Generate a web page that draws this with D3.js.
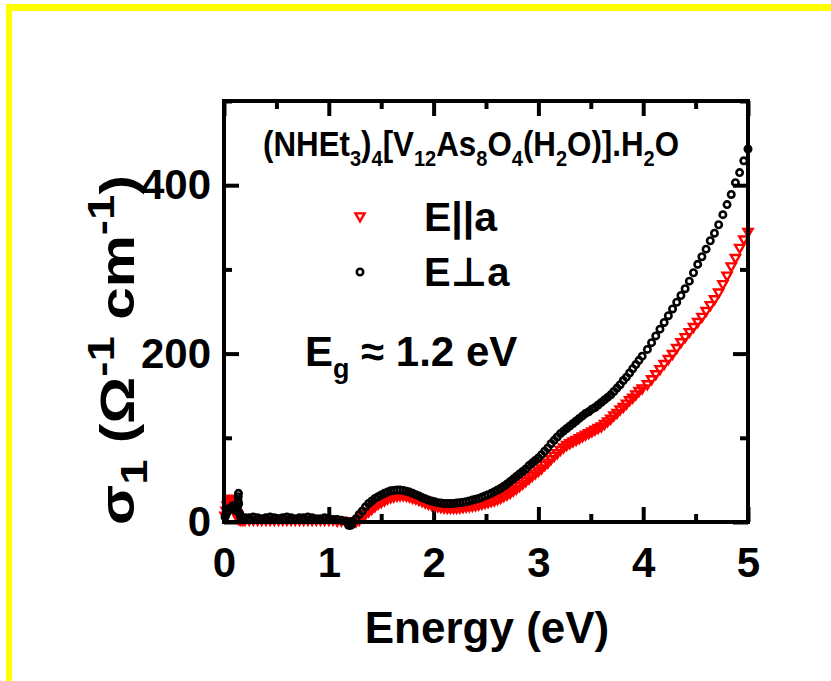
<!DOCTYPE html>
<html>
<head>
<meta charset="utf-8">
<script src="https://cdn.jsdelivr.net/npm/d3@7"></script>
<style>
  body { margin: 0; background: #fff; }
  text { font-family: "Liberation Sans", Arial, "DejaVu Sans", sans-serif; font-weight: bold; fill: #000; }
</style>
</head>
<body>
<script>

// photon energy (eV), shared by both polarisations
let energy = [
  0.01,0.02,0.03,0.04,0.05,0.06,0.07,0.08,0.09,0.10,0.11,0.12,0.13,0.132,0.134,0.136,0.138,0.14,0.15,0.16,0.18,0.20,
  0.24,0.28,0.32,0.36,0.40,0.44,0.48,0.52,0.56,0.60,0.64,0.68,0.72,0.76,0.80,0.84,0.88,0.92,0.96,1.00,1.04,1.08,1.12,1.16,
  1.18,1.19,1.20,1.205,1.21,1.22,
  1.23,1.26,1.29,1.32,1.35,1.38,1.41,1.44,1.47,1.50,1.53,1.56,1.59,1.62,1.65,1.68,1.71,1.74,1.77,1.80,
  1.83,1.86,1.89,1.92,1.95,1.98,2.01,2.04,2.07,2.10,2.13,2.16,2.19,2.22,2.25,2.28,2.31,2.34,2.37,2.40,
  2.43,2.46,2.49,2.52,2.55,2.58,2.61,2.64,2.67,2.70,2.73,2.76,2.79,2.82,2.85,2.88,2.91,2.94,2.97,3.00,
  3.03,3.06,3.09,3.12,3.15,3.18,3.21,3.24,3.27,3.30,3.33,3.36,3.39,3.42,3.45,3.48,3.51,3.54,3.57,3.60,
  3.63,3.66,3.69,3.72,3.75,3.78,3.81,3.84,3.87,3.90,3.93,3.96,3.99,
  4.04,4.08,4.12,4.16,4.20,4.24,4.28,4.32,4.36,4.40,4.44,4.48,4.52,4.56,4.60,4.64,4.68,4.72,4.76,4.80,
  4.84,4.88,4.92,4.96,5.00
]

// sigma_1 for E || a (red triangles)
let sigmaPara = [
  8,14,20,24,27,28,26,24,22,18,14,11,8,6,5,5,5,4,4,3,3,3,
  3,3,3,3,3,3,3,3,3,3,3,3,3,3,3,3,3,3,3,3,3,2,2,1,
  1,1,0,0,0,0,
  0,1,3,6,10,13,16,19,22,24,26,28,29.5,30.5,31.5,32,32,31.5,30.5,29,
  28,26.5,25,23.5,22,21,20,19,18,17.5,17,17,17,17,17.5,18,18.5,19,19.5,20,
  21,22,23,24,25,26,27.5,29,31,33,35,37.5,40,43,46,49,52,55,58,61,
  64,68,71,75,79,82,86,89,92,94,96,98,100,102,104,106,108,110,112,114,
  117,120,123,127,130,134,137,141,145,148,152,156,159,
  164,170,176,182,188,194,200,207,214,220,226,232,238,244,251,258,265,273,283,293,
  304,314,326,336,345
]

// sigma_1 for E perpendicular to a (black circles)
let sigmaPerp = [
  6,9,12,14,16,15,17,19,17,15,14,16,13,19,25,30,34,22,10,6,5,5,
  5,6,5,4,5,6,5,4,5,6,5,4,5,5,6,5,4,4,5,4,3,3,2,1,
  -1,-4,0,-4,-1,-3,
  1,4,9,13,18,22,25,28,30,32,34,35.5,37,37.5,38,38,37.5,36.5,35.5,34,
  32.5,31,29,27.5,26,25,24,23,22.5,22,22,22,22,22.5,23,23.5,24,25,26,27,
  28,29.5,31,32.5,34,36,38,40,42.5,45,48,51,54,57,60,63,67,70,73,76,
  80,84,88,93,97,101,105,108,111,114,117,120,123,126,129,131,134,136,139,142,
  145,148,151,155,159,163,168,172,177,182,187,192,197,
  205,213,221,229,237,245,253,261,269,277,286,296,306,315,324,334,343,353,365,377,
  389,403,415,429,443
]

let xMajor = [0, 1, 2, 3, 4, 5]
let xMinor = [0.5, 1.5, 2.5, 3.5, 4.5]
let yMajor = [0, 200, 400]
let yMinor = [100, 300, 500]

let width = 831
let height = 681
let plotLeft = 224, plotRight = 748, plotTop = 101, plotBottom = 522

let svg = d3.select("body")
            .append("svg")
            .attr("width", width)
            .attr("height", height)

// yellow page border
svg.append("rect").attr("x", 6).attr("y", 4).attr("width", 825).attr("height", 7).attr("fill", "#ffff00")
svg.append("rect").attr("x", 6).attr("y", 4).attr("width", 6).attr("height", 677).attr("fill", "#ffff00")

let xScale = d3.scaleLinear().domain([0, 5]).range([plotLeft, plotRight])
let yScale = d3.scaleLinear().domain([0, 500]).range([plotBottom, plotTop])

let styleAxis = (g, fontSize) => {
    g.select(".domain").remove()
    g.selectAll(".tick line").attr("stroke", "#000").attr("stroke-width", 4)
    g.selectAll(".tick text").attr("font-size", fontSize).attr("fill", "#000")
        .style("font-family", '"Liberation Sans", Arial, sans-serif').style("font-weight", "bold")
}

let drawAxes = () => {
    // bottom
    svg.append("g").attr("transform", "translate(0," + plotBottom + ")")
        .call(d3.axisBottom(xScale).tickValues(xMajor).tickSize(-15).tickPadding(25).tickFormat(d3.format("d")))
        .call(g => styleAxis(g, 42))
    svg.append("g").attr("transform", "translate(0," + plotBottom + ")")
        .call(d3.axisBottom(xScale).tickValues(xMinor).tickSize(-8).tickFormat(""))
        .call(g => styleAxis(g, 0))
    // top
    svg.append("g").attr("transform", "translate(0," + plotTop + ")")
        .call(d3.axisTop(xScale).tickValues(xMajor).tickSize(-15).tickFormat(""))
        .call(g => styleAxis(g, 0))
    svg.append("g").attr("transform", "translate(0," + plotTop + ")")
        .call(d3.axisTop(xScale).tickValues(xMinor).tickSize(-8).tickFormat(""))
        .call(g => styleAxis(g, 0))
    // left
    svg.append("g").attr("transform", "translate(" + plotLeft + ",0)")
        .call(d3.axisLeft(yScale).tickValues(yMajor).tickSize(-15).tickPadding(13))
        .call(g => styleAxis(g, 42))
    svg.append("g").attr("transform", "translate(" + plotLeft + ",0)")
        .call(d3.axisLeft(yScale).tickValues(yMinor).tickSize(-8).tickFormat(""))
        .call(g => styleAxis(g, 0))
    // right
    svg.append("g").attr("transform", "translate(" + plotRight + ",0)")
        .call(d3.axisRight(yScale).tickValues(yMajor).tickSize(-15).tickFormat(""))
        .call(g => styleAxis(g, 0))
    svg.append("g").attr("transform", "translate(" + plotRight + ",0)")
        .call(d3.axisRight(yScale).tickValues(yMinor).tickSize(-8).tickFormat(""))
        .call(g => styleAxis(g, 0))
}

let triangle = d3.symbol().type(d3.symbolTriangle).size(36)

let drawData = () => {
    let paraPts = energy.map((e, i) => [e, sigmaPara[i]])
    let perpPts = energy.map((e, i) => [e, sigmaPerp[i]])

    svg.append("g").selectAll("path")
        .data(paraPts)
        .enter()
        .append("path")
        .attr("d", triangle)
        .attr("transform", d => "translate(" + xScale(d[0]) + "," + yScale(d[1]) + ") rotate(180)")
        .attr("fill", "none")
        .attr("stroke", "#ff0000")
        .attr("stroke-width", 2.4)

    svg.append("g").selectAll("circle")
        .data(perpPts)
        .enter()
        .append("circle")
        .attr("cx", d => xScale(d[0]))
        .attr("cy", d => yScale(d[1]))
        .attr("r", 3.2)
        .attr("fill", "none")
        .attr("stroke", "#000")
        .attr("stroke-width", 2.6)
}

// text with sub / superscripts: pieces of [string, "sub" | "sup" | ""]
let richText = (x, y, size, pieces, anchor, small) => {
    let t = svg.append("text").attr("x", x).attr("y", y).attr("font-size", size)
                .attr("text-anchor", anchor || "start")
    let shift = 0
    pieces.forEach(p => {
        let target = p[1] === "sub" ? size * 0.28 : p[1] === "sup" ? -size * 0.42 : 0
        let ts = t.append("tspan").text(p[0]).attr("dy", target - shift)
        if (p[1]) ts.attr("font-size", size * (small || 0.64))
        shift = target
    })
    return t
}

let drawFrame = () => {
    svg.append("rect")
        .attr("x", plotLeft).attr("y", plotTop)
        .attr("width", plotRight - plotLeft).attr("height", plotBottom - plotTop)
        .attr("fill", "none").attr("stroke", "#000").attr("stroke-width", 4)
}

let drawLabels = () => {
    let title = richText(0, 0, 31, [["(NHEt", ""], ["3", "sub"], [")", ""], ["4", "sub"], ["[V", ""], ["12", "sub"],
        ["As", ""], ["8", "sub"], ["O", ""], ["4", "sub"], ["(H", ""], ["2", "sub"], ["O)].H", ""], ["2", "sub"], ["O", ""]])
    title.attr("transform", "translate(263,156) scale(1.01,1.12)")

    // legend
    svg.append("path").attr("d", triangle)
        .attr("transform", "translate(360,216) rotate(180)")
        .attr("fill", "none").attr("stroke", "#ff0000").attr("stroke-width", 2.4)
    svg.append("circle").attr("cx", 360).attr("cy", 272).attr("r", 3.2)
        .attr("fill", "none").attr("stroke", "#000").attr("stroke-width", 2.6)
    svg.append("text").attr("x", 424).attr("y", 231).attr("font-size", 41).text("E||a")
    svg.append("text").attr("x", 424).attr("y", 286).attr("font-size", 40).text("E\u22A5a")

    richText(305, 366, 42, [["E", ""], ["g", "sub"], [" \u2248 1.2 eV", ""]])

    svg.append("text").attr("x", 487).attr("y", 643).attr("font-size", 44)
        .attr("text-anchor", "middle").text("Energy (eV)")

    let yl = richText(0, 0, 48, [["\u03C3", ""], ["1", "sub"], [" (\u03A9", ""], ["-1", "sup"], [" cm", ""], ["-1", "sup"], [")", ""]], "middle", 0.78)
    yl.attr("transform", "translate(134,350) rotate(-90) scale(1.22,1)")
}

drawAxes()
drawData()
drawFrame()
drawLabels()

</script>
</body>
</html>
